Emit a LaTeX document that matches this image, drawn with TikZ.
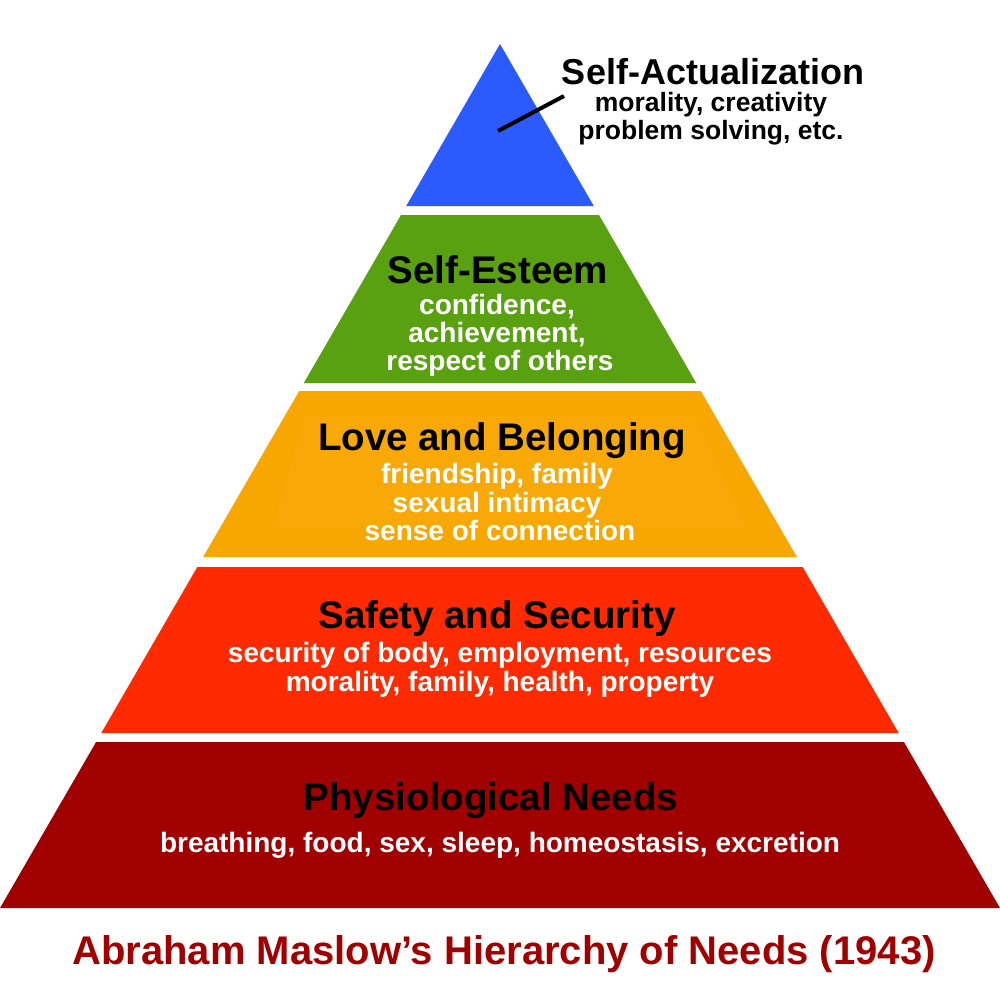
\documentclass[tikz,border=0pt]{standalone}
\usepackage{fontspec}
\setmainfont{Liberation Sans}
\usepackage{xcolor}
\usepackage{tikz}
\usetikzlibrary{positioning}

\definecolor{apexblue}{HTML}{2B5BFF}
\definecolor{esteemgreen}{HTML}{5AA111}
\definecolor{loveorange}{HTML}{F8A600}
\definecolor{loveglow}{HTML}{F9A907}
\definecolor{safetyred}{HTML}{FF2A00}
\definecolor{needsred}{HTML}{A10000}

\begin{document}
\begin{tikzpicture}[x=1pt, y=-1pt]
\tikzstyle{head}  = [anchor=base, inner sep=0pt, text=black, font=\bfseries\fontsize{38.5}{44}\selectfont]
\tikzstyle{sub}   = [anchor=base, inner sep=0pt, text=white, font=\bfseries\fontsize{28}{32}\selectfont]
\tikzstyle{topsub}= [anchor=base, inner sep=0pt, text=black, font=\bfseries\fontsize{26.5}{30}\selectfont]
\fill[white] (0,0) rectangle (1000,990);
\useasboundingbox (0,0) rectangle (1000,990);
% the five layers of the pyramid
\fill[apexblue]    (500.0,44)  -- (593.8,206) -- (406.2,206) -- cycle;
\fill[esteemgreen] (401.0,215) -- (599.0,215) -- (696.2,383) -- (303.8,383) -- cycle;
\fill[loveorange]  (299.2,391) -- (700.8,391) -- (796.9,557) -- (203.1,557) -- cycle;
\fill[loveglow]    (304,417) -- (696,417) -- (747,527) -- (273,527) -- cycle;
\fill[safetyred]   (197.3,567) -- (802.7,567) -- (898.7,733) -- (101.3,733) -- cycle;
\fill[needsred]    (96.1,742)  -- (903.9,742) -- (1000,908) -- (0,908) -- cycle;
% labels
\node[head, font=\bfseries\fontsize{36}{40}\selectfont] at (713, 84) (sa_head){Self-Actualization};
\node[topsub] at (711, 111) (sa_sub1){morality, creativity};
\node[topsub] at (711, 139) (sa_sub2){problem solving, etc.};
\node[head] at (498, 283) (se_head){Self-Esteem};
\node[sub] at (497, 314) (se_sub1){confidence,};
\node[sub] at (497, 342) (se_sub2){achievement,};
\node[sub] at (500, 370) (se_sub3){respect of others};
\node[head] at (502, 450) (lb_head){Love and Belonging};
\node[sub] at (497, 483) (lb_sub1){friendship, family};
\node[sub] at (497, 512) (lb_sub2){sexual intimacy};
\node[sub] at (500, 540) (lb_sub3){sense of connection};
\node[head] at (497, 628) (ss_head){Safety and Security};
\node[sub] at (500, 662) (ss_sub1){security of body, employment, resources};
\node[sub] at (500, 691) (ss_sub2){morality, family, health, property};
\node[head] at (491, 810) (pn_head){Physiological Needs};
\node[sub] at (500, 852) (pn_sub1){breathing, food, sex, sleep, homeostasis, excretion};
\node[anchor=base, inner sep=0pt, text=needsred, font=\bfseries\fontsize{40}{46}\selectfont] at (504, 964) (title){Abraham Maslow’s Hierarchy of Needs (1943)};
% pointer into the apex
\coordinate (sa_tip) at (498, 131);
\coordinate (sa_end) at (564, 96);
\draw[line width=4pt, black] (sa_tip) -- (sa_end);
\end{tikzpicture}
\end{document}
